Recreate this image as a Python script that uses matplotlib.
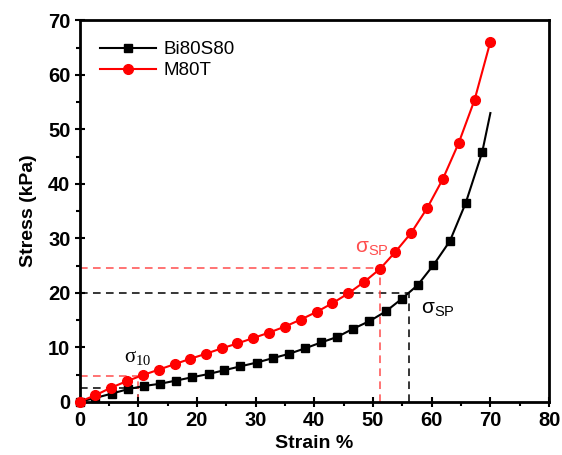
import numpy as np
import matplotlib
matplotlib.use('Agg')
import matplotlib.pyplot as plt
from matplotlib.ticker import MultipleLocator

plt.rcParams['font.family'] = ['Liberation Sans', 'DejaVu Sans']
plt.rcParams['mathtext.fontset'] = 'custom'
plt.rcParams['mathtext.rm'] = 'Liberation Serif'
plt.rcParams['mathtext.it'] = 'Liberation Serif'
plt.rcParams['mathtext.sf'] = 'Liberation Sans'

# Bi80S80 (black squares); last point is line only
strain_b = [0, 2.7, 5.5, 8.2, 11.0, 13.7, 16.5, 19.2, 22.0, 24.7, 27.4, 30.2, 32.9,
            35.7, 38.4, 41.2, 43.9, 46.6, 49.4, 52.2, 54.9, 57.6, 60.3, 63.1,
            65.8, 68.6, 70.0]
stress_b = [0, 0.7, 1.5, 2.3, 2.9, 3.3, 3.9, 4.5, 5.1, 5.8, 6.5, 7.2, 8.0,
            8.8, 9.8, 10.9, 11.9, 13.4, 14.8, 16.6, 18.9, 21.4, 25.1, 29.5,
            36.5, 45.8, 53.0]

# M80T (red circles)
strain_r = [0, 2.7, 5.4, 8.1, 10.8, 13.5, 16.2, 18.9, 21.5, 24.2, 26.9, 29.6, 32.3,
            35.0, 37.7, 40.4, 43.1, 45.8, 48.5, 51.2, 53.8, 56.5, 59.2, 61.9,
            64.6, 67.3, 70.0]
stress_r = [0, 1.2, 2.6, 3.8, 4.9, 5.9, 6.9, 7.9, 8.8, 9.8, 10.7, 11.7, 12.7,
            13.8, 15.1, 16.5, 18.1, 19.9, 22.0, 24.4, 27.5, 31.0, 35.5, 40.9,
            47.5, 55.4, 66.1]

# guide lines (x, y)
sp_black = (56.2, 20.0)
sp_red = (51.2, 24.5)
s10_black = (10.0, 2.6)
s10_red = (10.0, 4.7)

fig = plt.figure(figsize=(5.62, 4.55), dpi=100)
ax = fig.add_axes([0.1415, 0.117, 0.8355, 0.838])

for (gx, gy), c in [(sp_black, 'black'), (sp_red, '#ff4d4d'),
                    (s10_black, 'black'), (s10_red, '#ff4d4d')]:
    ax.plot([0, gx], [gy, gy], ls=(0, (5, 3.5)), color=c, lw=1.1, zorder=1)
    ax.plot([gx, gx], [0, gy], ls=(0, (5, 3.5)), color=c, lw=1.1, zorder=1)

ax.plot(strain_b, stress_b, '-s', color='black', lw=1.5, ms=5.5,
        markevery=list(range(len(strain_b) - 1)), label='Bi80S80',
        zorder=3, clip_on=False)
ax.plot(strain_r, stress_r, '-o', color='red', lw=1.5, ms=7,
        label='M80T', zorder=4, clip_on=False)

ax.text(7.6, 7.3, r'$\sigma_{10}$', fontsize=15)
ax.text(46.9, 27.4, r'$\mathsf{\sigma_{SP}}$', fontsize=15, color='#ff4d4d')
ax.text(58.2, 16.2, r'$\mathsf{\sigma_{SP}}$', fontsize=15, color='black')

ax.set_xlim(0, 80)
ax.set_ylim(0, 70)
ax.xaxis.set_major_locator(MultipleLocator(10))
ax.xaxis.set_minor_locator(MultipleLocator(5))
ax.yaxis.set_major_locator(MultipleLocator(10))
ax.yaxis.set_minor_locator(MultipleLocator(5))
ax.tick_params(which='major', direction='inout', length=7, width=1.5,
               labelsize=14.5, pad=3)
ax.tick_params(which='minor', direction='out', length=3, width=1.5)
for lab in ax.get_xticklabels() + ax.get_yticklabels():
    lab.set_fontweight('bold')
for s in ax.spines.values():
    s.set_linewidth(2)

ax.set_xlabel('Strain %', fontsize=14, fontweight='bold', labelpad=4)
ax.set_ylabel('Stress (kPa)', fontsize=14, fontweight='bold', labelpad=8)

ax.legend(loc='upper left', frameon=False, fontsize=13.5, handlelength=3.0,
          borderaxespad=0.7, handletextpad=0.4, labelspacing=0.2)

fig.savefig('out.png', dpi=100)
